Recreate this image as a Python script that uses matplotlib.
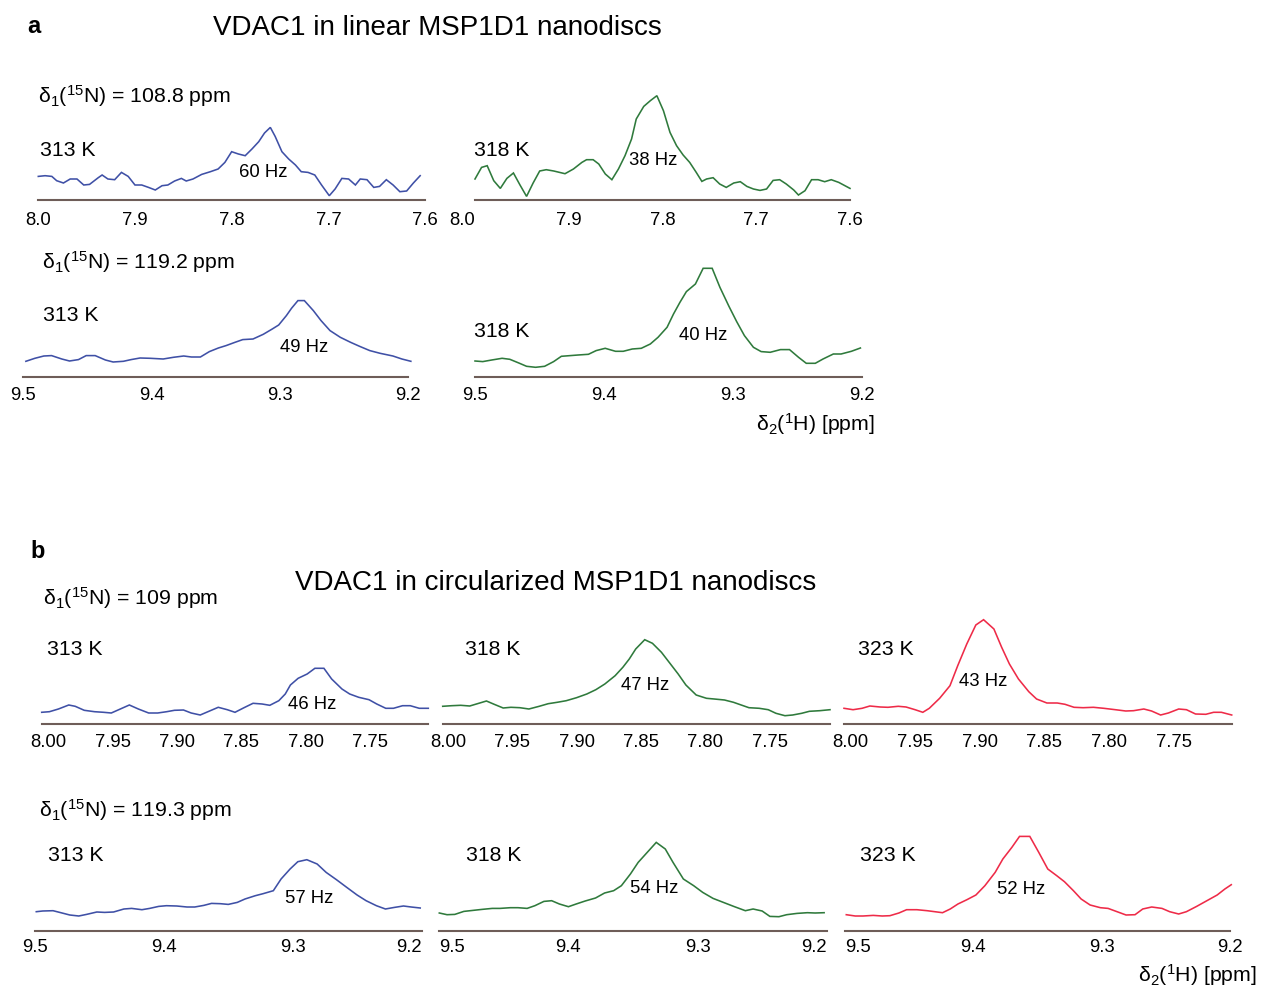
import numpy as np
import matplotlib
matplotlib.use("Agg")
import matplotlib.pyplot as plt

plt.rcParams["font.family"] = ["Liberation Sans", "DejaVu Sans"]
plt.rcParams["mathtext.default"] = "regular"

W, H, DPI = 1262, 987, 100

BLUE = "#3f50a6"
GREEN = "#2f7a3c"
RED = "#ee2b48"
AXIS_COLOR = "#6e5d58"

# ---------------- panel a: linear MSP1D1 nanodiscs ----------------
# delta1(15N) = 108.8 ppm, 313 K
a_108_313_ppm = [8.000, 7.993, 7.986, 7.981, 7.974, 7.967, 7.960, 7.953, 7.947, 7.938,
                 7.934, 7.928, 7.921, 7.914, 7.907, 7.900, 7.893, 7.886, 7.879, 7.872,
                 7.866, 7.859, 7.852, 7.847, 7.840, 7.831, 7.822, 7.814, 7.807, 7.800,
                 7.793, 7.786, 7.779, 7.772, 7.766, 7.760, 7.755, 7.748, 7.741, 7.734,
                 7.728, 7.721, 7.714, 7.707, 7.699, 7.693, 7.686, 7.679, 7.672, 7.667,
                 7.660, 7.653, 7.647, 7.640, 7.633, 7.626, 7.619, 7.612, 7.605]
a_108_313_int = [23.3, 24.0, 23.3, 19.0, 16.7, 20.7, 20.7, 14.7, 15.3, 22.0,
                 24.7, 20.7, 20.0, 27.3, 23.3, 14.7, 14.7, 12.3, 9.7, 14.0,
                 14.7, 18.7, 21.3, 18.7, 20.7, 25.3, 28.0, 30.7, 37.3, 48.0,
                 45.7, 44.0, 50.7, 58.0, 66.7, 72.3, 63.3, 48.0, 40.7, 34.7,
                 28.0, 27.3, 24.7, 14.7, 4.0, 10.7, 21.3, 20.7, 14.7, 20.7,
                 20.0, 12.3, 13.3, 20.0, 14.7, 8.0, 8.7, 16.7, 24.0]

# delta1(15N) = 108.8 ppm, 318 K
a_108_318_ppm = [8.000, 7.993, 7.987, 7.980, 7.973, 7.966, 7.959, 7.952, 7.945, 7.938,
                 7.931, 7.924, 7.916, 7.904, 7.895, 7.886, 7.881, 7.874, 7.868, 7.861,
                 7.854, 7.847, 7.840, 7.833, 7.828, 7.820, 7.813, 7.806, 7.799, 7.792,
                 7.785, 7.778, 7.771, 7.764, 7.758, 7.753, 7.746, 7.739, 7.732, 7.724,
                 7.717, 7.710, 7.703, 7.696, 7.689, 7.682, 7.675, 7.668, 7.660, 7.655,
                 7.648, 7.641, 7.634, 7.627, 7.620, 7.612, 7.600]
a_108_318_int = [20.7, 32.3, 34.0, 19.0, 11.3, 21.3, 26.7, 14.7, 3.3, 16.7,
                 28.7, 30.0, 28.7, 26.0, 30.7, 37.3, 40.0, 40.0, 35.7, 25.7,
                 20.0, 30.7, 44.0, 60.7, 80.7, 93.3, 99.0, 104.0, 89.0, 67.3,
                 54.0, 44.7, 37.3, 27.3, 18.3, 20.7, 22.0, 15.7, 12.3, 16.7,
                 18.0, 13.3, 10.7, 9.3, 10.7, 19.3, 20.0, 15.7, 9.7, 4.7,
                 9.0, 20.0, 20.0, 18.0, 20.0, 17.3, 11.3]

# delta1(15N) = 119.2 ppm, 313 K
a_119_313_ppm = [9.498, 9.491, 9.484, 9.478, 9.470, 9.464, 9.457, 9.451, 9.444, 9.436,
                 9.430, 9.422, 9.416, 9.409, 9.401, 9.391, 9.383, 9.375, 9.369, 9.362,
                 9.355, 9.348, 9.342, 9.335, 9.329, 9.321, 9.313, 9.306, 9.301, 9.295,
                 9.291, 9.286, 9.281, 9.274, 9.268, 9.261, 9.253, 9.245, 9.238, 9.230,
                 9.222, 9.212, 9.205, 9.198]
a_119_313_int = [16.0, 19.0, 21.3, 21.7, 18.3, 16.3, 17.7, 21.7, 21.7, 17.3,
                 15.3, 16.0, 17.7, 19.3, 19.0, 18.3, 20.0, 21.3, 20.3, 20.3,
                 25.7, 29.3, 31.7, 35.0, 37.7, 38.3, 43.0, 48.3, 52.3, 61.7,
                 69.0, 76.7, 76.7, 66.7, 56.7, 46.7, 40.0, 35.0, 31.0, 26.7,
                 24.0, 21.3, 18.3, 16.0]

# delta1(15N) = 119.2 ppm, 318 K
a_119_318_ppm = [9.500, 9.494, 9.487, 9.479, 9.473, 9.466, 9.460, 9.453, 9.446, 9.439,
                 9.433, 9.426, 9.420, 9.412, 9.406, 9.399, 9.391, 9.385, 9.378, 9.371,
                 9.364, 9.358, 9.351, 9.346, 9.341, 9.336, 9.329, 9.323, 9.316, 9.310,
                 9.303, 9.297, 9.291, 9.284, 9.278, 9.271, 9.263, 9.256, 9.249, 9.243,
                 9.236, 9.230, 9.222, 9.216, 9.208, 9.201]
a_119_318_int = [16.3, 15.7, 17.3, 19.0, 18.0, 14.3, 11.0, 10.0, 11.0, 15.7,
                 21.0, 21.7, 22.3, 23.0, 26.7, 29.0, 26.0, 26.0, 28.3, 29.0,
                 33.3, 40.0, 50.0, 63.3, 75.0, 85.7, 93.3, 109.0, 109.0, 90.0,
                 71.0, 55.7, 41.7, 30.0, 25.7, 25.0, 27.7, 27.7, 20.0, 14.0,
                 14.0, 18.3, 23.3, 23.3, 26.0, 29.3]

# ---------------- panel b: circularized MSP1D1 nanodiscs ----------------
# delta1(15N) = 109 ppm, 313 K
b_109_313_ppm = [8.005, 7.999, 7.992, 7.984, 7.979, 7.972, 7.964, 7.957, 7.951, 7.944,
                 7.937, 7.930, 7.922, 7.915, 7.908, 7.902, 7.895, 7.889, 7.882, 7.876,
                 7.868, 7.861, 7.855, 7.848, 7.841, 7.834, 7.828, 7.821, 7.816, 7.812,
                 7.806, 7.799, 7.793, 7.786, 7.780, 7.772, 7.766, 7.759, 7.751, 7.745,
                 7.738, 7.732, 7.725, 7.719, 7.712, 7.705]
b_109_313_int = [11.7, 12.3, 15.0, 19.0, 17.7, 13.7, 12.3, 11.7, 11.0, 15.0,
                 19.0, 15.0, 11.0, 11.0, 12.3, 13.7, 14.0, 11.0, 9.0, 12.3,
                 16.7, 14.3, 11.7, 16.3, 20.7, 20.0, 18.7, 23.3, 30.0, 39.0,
                 45.7, 50.0, 55.7, 55.7, 45.0, 35.0, 30.0, 26.7, 24.3, 20.0,
                 15.7, 15.7, 18.3, 18.3, 15.7, 15.7]

# delta1(15N) = 109 ppm, 318 K
b_109_318_ppm = [8.004, 7.997, 7.990, 7.983, 7.977, 7.970, 7.964, 7.957, 7.951, 7.944,
                 7.937, 7.929, 7.922, 7.915, 7.908, 7.900, 7.892, 7.885, 7.878, 7.870,
                 7.864, 7.859, 7.854, 7.847, 7.841, 7.834, 7.828, 7.821, 7.815, 7.807,
                 7.799, 7.793, 7.785, 7.778, 7.772, 7.766, 7.758, 7.751, 7.745, 7.738,
                 7.732, 7.725, 7.719, 7.711, 7.703]
b_109_318_int = [17.7, 18.3, 18.7, 18.0, 20.3, 23.0, 19.7, 16.0, 16.7, 16.3,
                 15.0, 17.7, 20.3, 21.7, 23.3, 26.3, 30.0, 34.3, 40.0, 48.3,
                 56.7, 65.0, 75.0, 84.3, 80.7, 71.7, 61.7, 50.0, 39.0, 29.0,
                 25.7, 25.0, 24.0, 21.7, 19.0, 16.3, 15.7, 14.3, 10.7, 8.3,
                 9.0, 10.7, 12.7, 13.3, 14.3]

# delta1(15N) = 109 ppm, 323 K
b_109_323_ppm = [8.005, 7.998, 7.991, 7.985, 7.977, 7.971, 7.963, 7.957, 7.950, 7.944,
                 7.939, 7.931, 7.923, 7.917, 7.910, 7.903, 7.897, 7.889, 7.883, 7.877,
                 7.870, 7.862, 7.856, 7.848, 7.840, 7.834, 7.827, 7.820, 7.812, 7.804,
                 7.795, 7.787, 7.781, 7.773, 7.767, 7.760, 7.754, 7.746, 7.740, 7.733,
                 7.725, 7.719, 7.713, 7.705]
b_109_323_int = [15.7, 14.3, 15.7, 18.0, 17.0, 16.7, 17.7, 17.0, 14.3, 11.7,
                 15.7, 25.7, 38.3, 58.3, 80.0, 99.0, 104.3, 95.0, 76.7, 60.0,
                 45.0, 32.3, 25.0, 21.0, 21.0, 19.7, 16.7, 16.3, 16.7, 15.7,
                 14.3, 13.0, 13.3, 15.0, 13.0, 9.0, 11.0, 15.0, 14.3, 10.0,
                 9.7, 11.7, 11.7, 9.0]

# delta1(15N) = 119.3 ppm, 313 K
b_119_313_ppm = [9.499, 9.494, 9.486, 9.479, 9.473, 9.466, 9.460, 9.452, 9.446, 9.439,
                 9.431, 9.425, 9.417, 9.411, 9.404, 9.398, 9.390, 9.382, 9.376, 9.369,
                 9.363, 9.356, 9.350, 9.343, 9.337, 9.329, 9.323, 9.315, 9.309, 9.302,
                 9.296, 9.289, 9.281, 9.274, 9.266, 9.258, 9.250, 9.243, 9.235, 9.228,
                 9.221, 9.214, 9.208, 9.201]
b_119_313_int = [19.0, 19.7, 20.0, 17.7, 15.7, 14.7, 16.3, 18.7, 18.3, 18.7,
                 21.7, 22.3, 21.0, 22.3, 24.3, 25.0, 24.7, 23.7, 23.7, 25.3,
                 27.3, 27.0, 26.3, 28.3, 31.7, 35.0, 37.0, 40.0, 51.7, 61.7,
                 69.0, 71.0, 66.7, 58.3, 51.0, 43.3, 35.7, 30.0, 25.0, 21.7,
                 23.3, 24.7, 23.7, 22.7]

# delta1(15N) = 119.3 ppm, 318 K
b_119_318_ppm = [9.500, 9.494, 9.488, 9.481, 9.474, 9.467, 9.459, 9.453, 9.445, 9.439,
                 9.432, 9.426, 9.419, 9.413, 9.407, 9.400, 9.394, 9.387, 9.379, 9.372,
                 9.365, 9.359, 9.352, 9.346, 9.339, 9.332, 9.325, 9.319, 9.311, 9.303,
                 9.296, 9.288, 9.280, 9.272, 9.263, 9.257, 9.250, 9.244, 9.237, 9.231,
                 9.223, 9.215, 9.209, 9.202]
b_119_318_int = [17.7, 16.0, 16.3, 19.3, 20.3, 21.3, 22.3, 22.3, 23.0, 23.0,
                 22.3, 25.0, 29.3, 30.0, 26.7, 24.0, 26.7, 29.7, 32.7, 37.7,
                 40.0, 45.0, 56.7, 68.3, 78.3, 88.3, 81.7, 68.3, 51.7, 45.0,
                 38.3, 32.3, 28.3, 24.3, 20.0, 21.7, 19.7, 14.3, 14.0, 16.0,
                 17.3, 18.0, 17.7, 18.0]

# delta1(15N) = 119.3 ppm, 323 K
b_119_323_ppm = [9.499, 9.492, 9.486, 9.478, 9.471, 9.465, 9.458, 9.452, 9.444, 9.436,
                 9.430, 9.424, 9.418, 9.412, 9.405, 9.398, 9.391, 9.383, 9.377, 9.370,
                 9.364, 9.356, 9.349, 9.342, 9.335, 9.329, 9.322, 9.316, 9.309, 9.301,
                 9.295, 9.288, 9.281, 9.274, 9.268, 9.261, 9.253, 9.247, 9.240, 9.234,
                 9.226, 9.218, 9.210, 9.204, 9.199]
b_119_323_int = [16.0, 14.7, 14.7, 15.3, 14.7, 15.0, 17.7, 21.0, 21.0, 20.0,
                 19.0, 18.0, 21.7, 26.7, 31.0, 35.7, 45.0, 58.3, 71.7, 83.3,
                 94.3, 94.3, 78.3, 61.7, 55.0, 49.0, 40.0, 31.7, 25.7, 23.0,
                 22.3, 19.0, 15.7, 16.0, 21.7, 23.7, 22.3, 19.0, 16.7, 19.0,
                 24.3, 30.0, 35.7, 41.7, 46.0]

# tick values and labels
ticks_a_top = [8.0, 7.9, 7.8, 7.7, 7.6]
labels_a_top = ["8.0", "7.9", "7.8", "7.7", "7.6"]
ticks_b_top = [8.00, 7.95, 7.90, 7.85, 7.80, 7.75]
labels_b_top = ["8.00", "7.95", "7.90", "7.85", "7.80", "7.75"]
ticks_low = [9.5, 9.4, 9.3, 9.2]
labels_low = ["9.5", "9.4", "9.3", "9.2"]

linewidths_hz = {"a108_313": "60 Hz", "a108_318": "38 Hz", "a119_313": "49 Hz",
                 "a119_318": "40 Hz", "b109_313": "46 Hz", "b109_318": "47 Hz",
                 "b109_323": "43 Hz", "b119_313": "57 Hz", "b119_318": "54 Hz",
                 "b119_323": "52 Hz"}

fig = plt.figure(figsize=(W / DPI, H / DPI), dpi=DPI)
fig.patch.set_facecolor("white")

AX_H = 130.0  # axes height in pixels (intensity units share the same scale)


def fx(x):
    return x / W


def fy(y):
    return 1 - y / H


def spectrum(x0, x1, base, xlim, ppm, inten, color, ticks, labels, pad,
             first_ha="center", last_ha="center"):
    ax = fig.add_axes([fx(x0), fy(base), (x1 - x0) / W, AX_H / H])
    ax.patch.set_alpha(0)
    ax.plot(ppm, inten, color=color, lw=1.15, clip_on=False, solid_joinstyle="miter")
    ax.set_xlim(*xlim)
    ax.set_ylim(0, AX_H)
    for s in ("top", "left", "right"):
        ax.spines[s].set_visible(False)
    ax.spines["bottom"].set_color(AXIS_COLOR)
    ax.spines["bottom"].set_linewidth(1.5)
    ax.set_yticks([])
    ax.set_xticks(ticks)
    ax.set_xticklabels(labels)
    ax.tick_params(axis="x", length=0, pad=pad, labelsize=13.3, colors="black")
    tl = ax.get_xticklabels()
    tl[0].set_ha(first_ha)
    tl[-1].set_ha(last_ha)
    return ax


def txt(x, y, s, size=15.3, ha="left", **kw):
    fig.text(fx(x), fy(y), s, fontsize=size, ha=ha, va="baseline", **kw)


# panel a
spectrum(38.3, 425, 200.7, (8.0, 7.6), a_108_313_ppm, a_108_313_int, BLUE,
         ticks_a_top, labels_a_top, 8.0)
spectrum(475, 850, 200.7, (8.0, 7.6), a_108_318_ppm, a_108_318_int, GREEN,
         ticks_a_top, labels_a_top, 8.0, first_ha="right")
spectrum(23.3, 408.3, 378.3, (9.5, 9.2), a_119_313_ppm, a_119_313_int, BLUE,
         ticks_low, labels_low, 6.3)
spectrum(475, 861.7, 378.3, (9.5, 9.2), a_119_318_ppm, a_119_318_int, GREEN,
         ticks_low, labels_low, 6.3)

# panel b
spectrum(41.7, 428.3, 725, (8.005, 7.705), b_109_313_ppm, b_109_313_int, BLUE,
         ticks_b_top, labels_b_top, 6.3)
spectrum(442.7, 830, 725, (8.004, 7.703), b_109_318_ppm, b_109_318_int, GREEN,
         ticks_b_top, labels_b_top, 6.3)
spectrum(844, 1231.7, 725, (8.005, 7.705), b_109_323_ppm, b_109_323_int, RED,
         ticks_b_top, labels_b_top, 6.3)
spectrum(35, 421.5, 931.7, (9.5, 9.2), b_119_313_ppm, b_119_313_int, BLUE,
         ticks_low, labels_low, 5.5, last_ha="right")
spectrum(439.3, 826.7, 931.7, (9.5, 9.2), b_119_318_ppm, b_119_318_int, GREEN,
         ticks_low, labels_low, 5.5, first_ha="left", last_ha="right")
spectrum(845, 1230, 931.7, (9.5, 9.2), b_119_323_ppm, b_119_323_int, RED,
         ticks_low, labels_low, 5.5, first_ha="left")

# panel letters and titles
txt(27, 33, "a", size=17, weight="bold")
txt(30, 558, "b", size=17, weight="bold")
txt(437, 35, "VDAC1 in linear MSP1D1 nanodiscs", size=20, ha="center")
txt(556, 590, "VDAC1 in circularized MSP1D1 nanodiscs", size=20, ha="center")

# nitrogen shift labels
txt(38.3, 102.7, "δ$_1$($^{15}$N) = 108.8 ppm")
txt(41.7, 268.3, "δ$_1$($^{15}$N) = 119.2 ppm")
txt(42.7, 605, "δ$_1$($^{15}$N) = 109 ppm")
txt(39.3, 816.7, "δ$_1$($^{15}$N) = 119.3 ppm")

# temperatures
for x, y, s in [(40, 156, "313 K"), (474, 156, "318 K"),
                (42.7, 320.7, "313 K"), (474, 337.3, "318 K"),
                (47, 655, "313 K"), (465, 655, "318 K"), (858, 655, "323 K"),
                (48, 861, "313 K"), (466, 860.7, "318 K"), (860, 860.7, "323 K")]:
    txt(x, y, s)

# line widths
for x, y, key in [(263, 176.7, "a108_313"), (653, 165, "a108_318"),
                  (304.5, 351.7, "a119_313"), (703, 340, "a119_318"),
                  (312, 709.3, "b109_313"), (645, 690, "b109_318"),
                  (983, 686, "b109_323"), (309.5, 903.3, "b119_313"),
                  (654, 893.3, "b119_318"), (1021, 894, "b119_323")]:
    txt(x, y, linewidths_hz[key], size=13.3, ha="center")

# proton axis titles
txt(875, 430.5, "δ$_2$($^1$H) [ppm]", ha="right")
txt(1257, 981.5, "δ$_2$($^1$H) [ppm]", ha="right")

fig.savefig("out.png", dpi=DPI, facecolor="white")
